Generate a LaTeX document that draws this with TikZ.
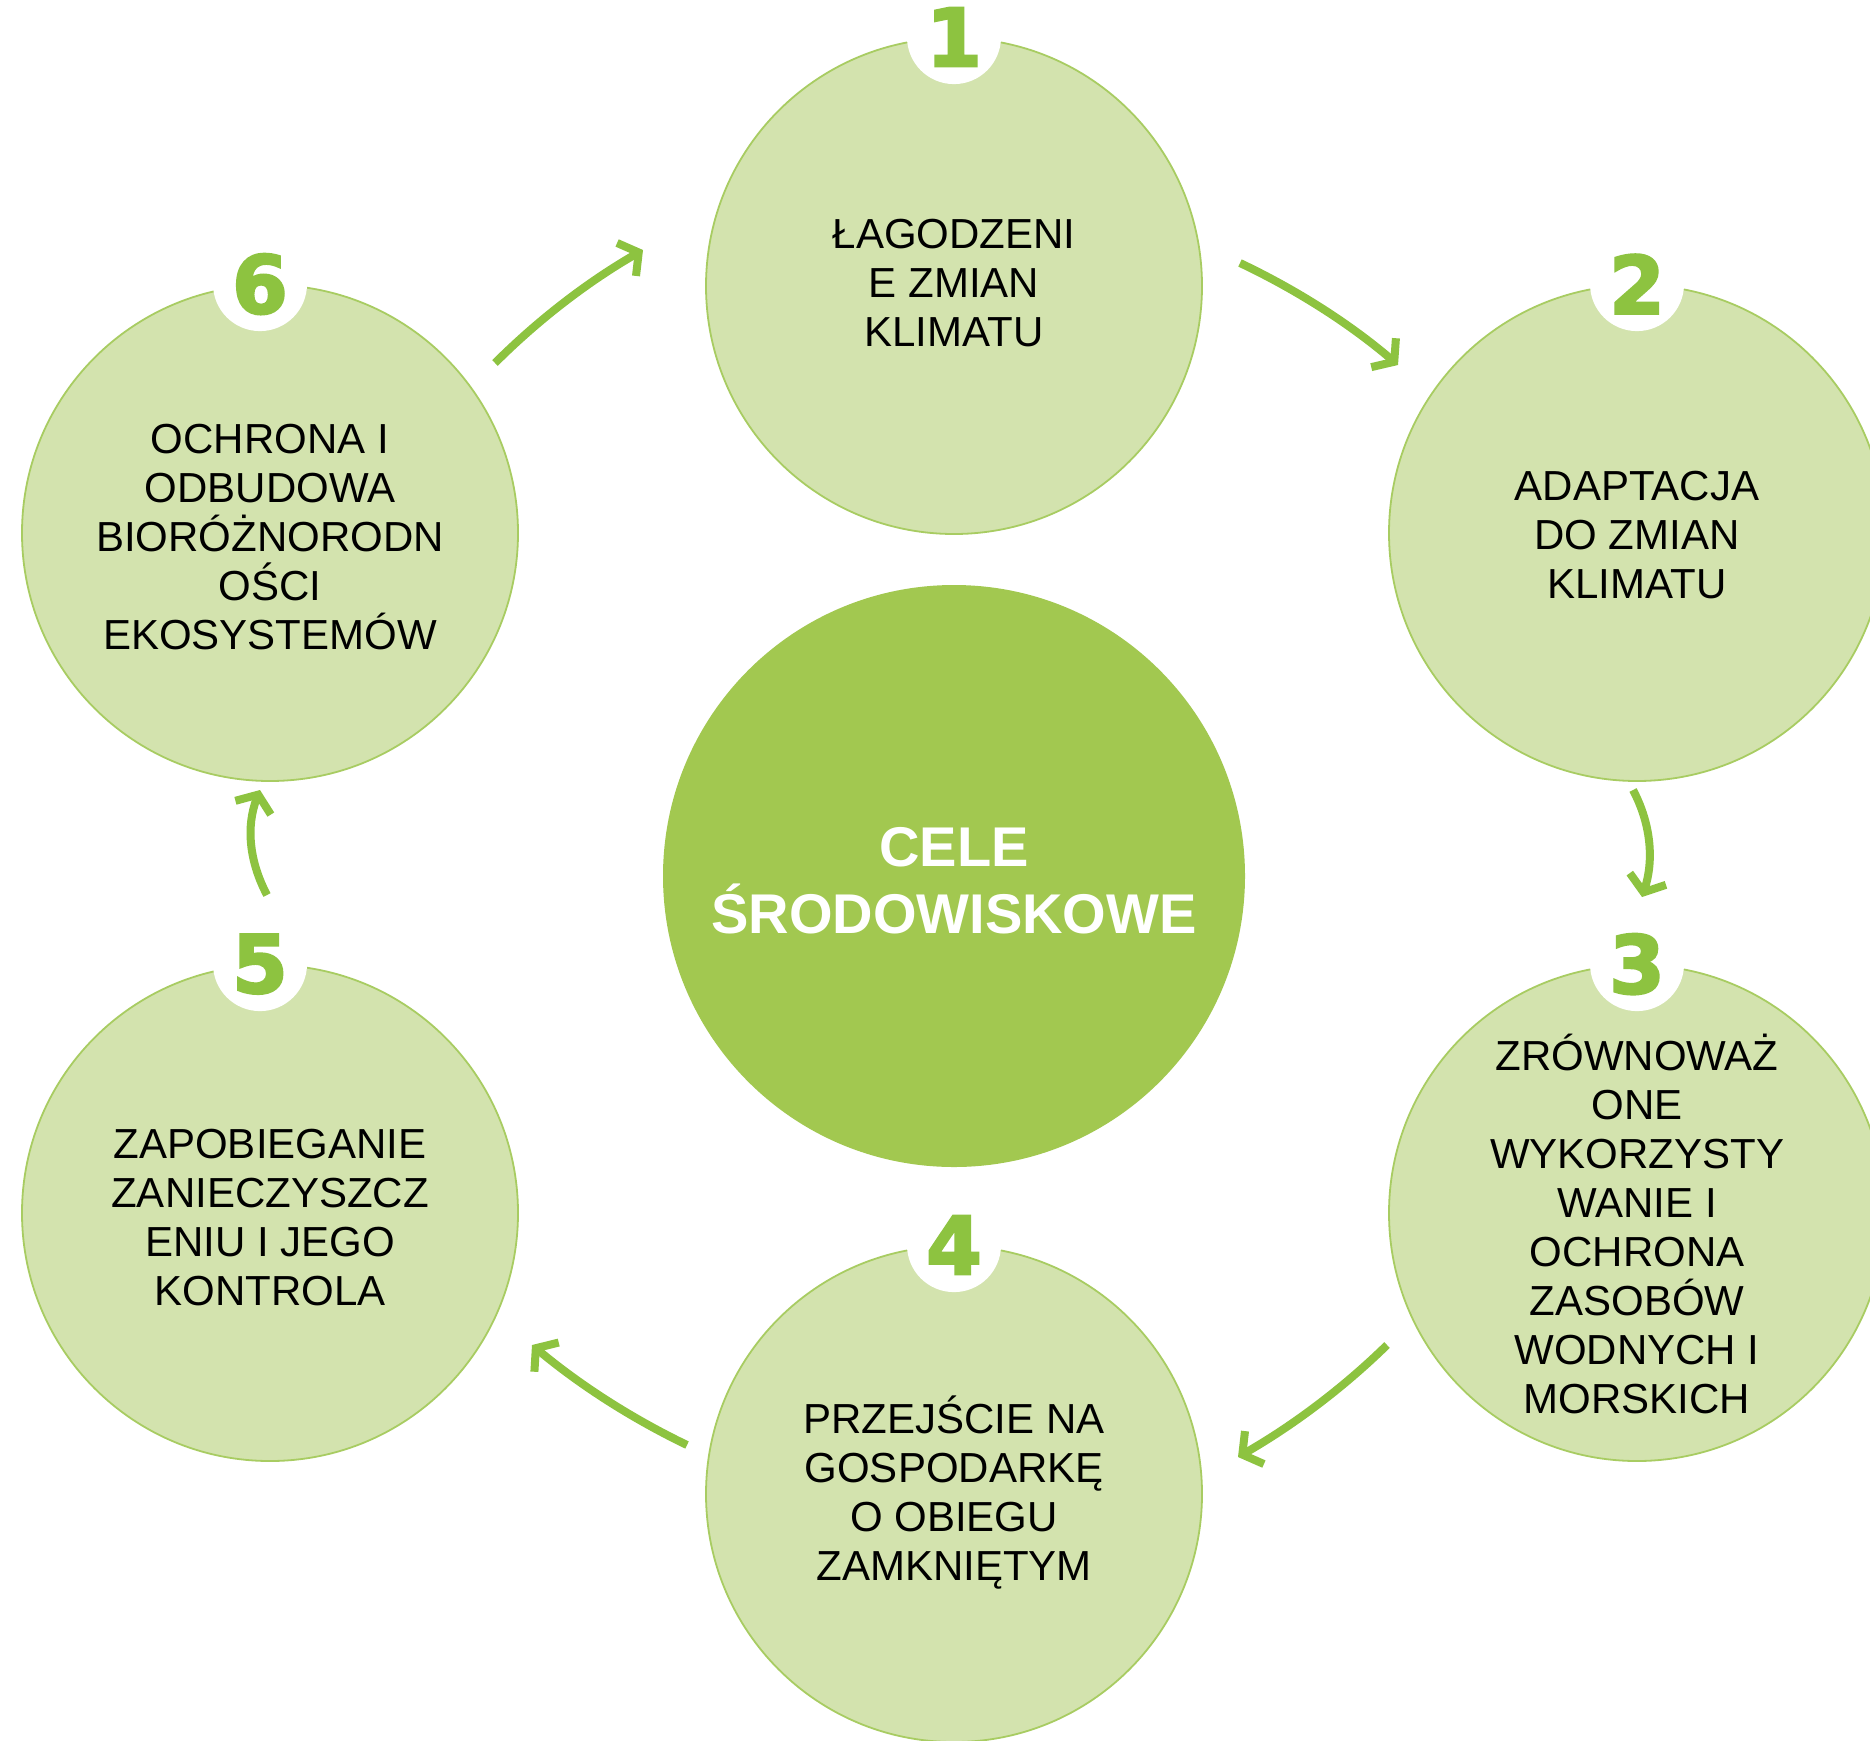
\documentclass[tikz,border=0pt]{standalone}
\usepackage{fontspec}
\setmainfont{Liberation Sans}
\newfontfamily\numfont{DejaVu Sans}[BoldFeatures={FakeBold=3}]
\usetikzlibrary{arrows.meta}
\definecolor{lightg}{HTML}{D3E3AE}
\definecolor{edgeg}{HTML}{A8CC62}
\definecolor{centerg}{HTML}{A2C850}
\definecolor{numg}{HTML}{8DC340}
\begin{document}
\begin{tikzpicture}[x=1pt,y=-1pt,
  goal/.style={circle, fill=lightg, draw=edgeg, line width=1.8pt, minimum size=496pt, inner sep=0pt},
  core/.style={circle, fill=centerg, minimum size=582pt, inner sep=0pt},
  goaltext/.style={align=center, inner sep=0pt, text=black, font=\fontsize{42}{49}\selectfont},
  coretext/.style={align=center, inner sep=0pt, text=white, font=\bfseries\fontsize{56}{67}\selectfont},
  badge/.style={circle, fill=white, minimum size=94pt, inner sep=0pt},
  num/.style={text=numg, inner sep=0pt, font=\numfont\bfseries\fontsize{80}{80}\selectfont},
  flow/.style={draw=numg, line width=8pt, -{Straight Barb[length=14pt,width=38pt]}}]
\useasboundingbox (0,0) rectangle (1870,1740);
\clip (0,0) rectangle (1870,1740);
\fill[white] (0,0) rectangle (1870,1740);

% circles
\node[goal] (c1) at (954,286) {};
\node[goal] (c2) at (1637,533) {};
\node[goal] (c3) at (1637,1213) {};
\node[goal] (c4) at (954,1494) {};
\node[goal] (c5) at (270,1213) {};
\node[goal] (c6) at (270,533) {};
\node[core] (c0) at (954,876) {};

% badges
\foreach \c/\n/\dx in {c1/1/0,c2/2/0,c3/3/0,c4/4/0,c5/5/-10,c6/6/-10}{
  \node[badge] (b\n) at ([xshift=\dx pt]\c.north) {};
  \node[num] (n\n) at (b\n.center) {\n};
}

% texts
\node[goaltext] (t1) at (954,283) {ŁAGODZENI\\E ZMIAN\\KLIMATU};
\node[goaltext] (t2) at (1637,535) {ADAPTACJA\\DO ZMIAN\\KLIMATU};
\node[goaltext] (t3) at (1637,1224) {ZRÓWNOWAŻ\\ONE\\WYKORZYSTY\\WANIE I\\OCHRONA\\ZASOBÓW\\WODNYCH I\\MORSKICH};
\node[goaltext] (t4) at (954,1493) {PRZEJŚCIE NA\\GOSPODARKĘ\\O OBIEGU\\ZAMKNIĘTYM};
\node[goaltext] (t5) at (270,1218) {ZAPOBIEGANIE\\ZANIECZYSZCZ\\ENIU I JEGO\\KONTROLA};
\node[goaltext] (t6) at (270,537) {OCHRONA I\\ODBUDOWA\\BIORÓŻNORODN\\OŚCI\\EKOSYSTEMÓW};
\node[coretext] (t0) at (954,881) {CELE\\ŚRODOWISKOWE};

% arrows
\coordinate (s12) at (1240,263); \coordinate (e12) at (1398,365);
\coordinate (s23) at (1633,790); \coordinate (e23) at (1642,897);
\coordinate (s34) at (1387,1345); \coordinate (e34) at (1238,1457);
\coordinate (s45) at (687,1445); \coordinate (e45) at (532,1345);
\coordinate (s56) at (267,895); \coordinate (e56) at (260,790);
\coordinate (s61) at (495,363); \coordinate (e61) at (643,250);

\draw[flow] (s12) .. controls (1297,290) and (1350,324) .. (e12);
\draw[flow] (s23) .. controls (1651,824) and (1654,860) .. (e23);
\draw[flow] (s34) .. controls (1342,1389) and (1292,1426) .. (e34);
\draw[flow] (s45) .. controls (631,1418) and (580,1385) .. (e45);
\draw[flow] (s56) .. controls (249,861) and (246,826) .. (e56);
\draw[flow] (s61) .. controls (539,319) and (589,281) .. (e61);
\end{tikzpicture}
\end{document}
